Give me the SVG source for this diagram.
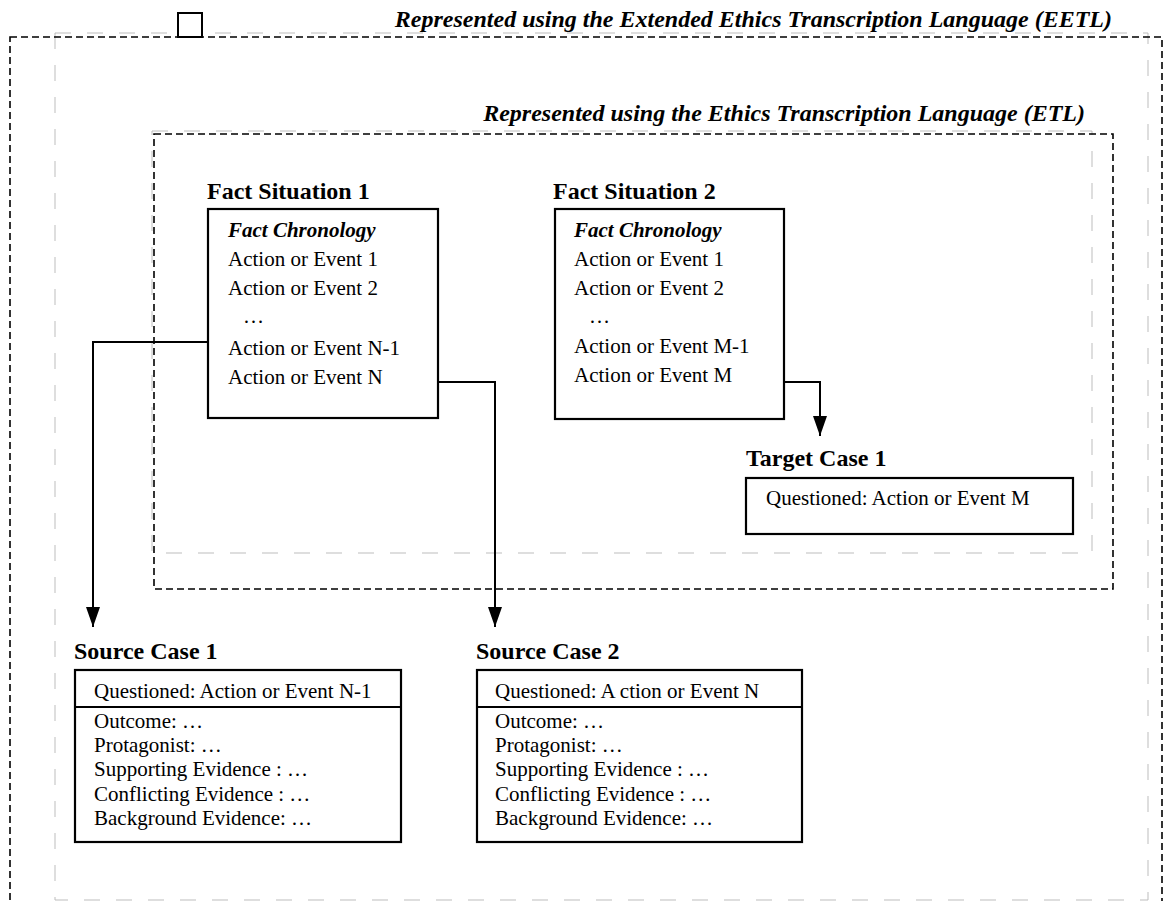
<svg xmlns="http://www.w3.org/2000/svg" width="1164" height="901" viewBox="0 0 1164 901">
<style>
text{font-family:"Liberation Serif","Times New Roman",serif;fill:#000}
.hdr{font-size:24px;font-weight:bold;font-style:italic}
.ttl{font-size:24px;font-weight:bold}
.fc{font-size:21px;font-weight:bold;font-style:italic}
.t{font-size:21px}
.box{fill:#fff;stroke:#000;stroke-width:2.2}
.bd{fill:none;stroke:#000;stroke-width:1.6;stroke-dasharray:7 4}
.gd{fill:none;stroke:#bdbdbd;stroke-width:1;stroke-dasharray:16 16}
.conn{fill:none;stroke:#000;stroke-width:2}
</style>
<defs>
<marker id="ah" viewBox="0 0 20 14" refX="20" refY="7" markerWidth="20" markerHeight="14" markerUnits="userSpaceOnUse" orient="auto">
<path d="M0,0 L20,7 L0,14 Z" fill="#000"/>
</marker>
</defs>
<rect width="1164" height="901" fill="#fff"/>
<g id="frame-eetl">
<rect class="gd" x="55" y="33" width="1093" height="867"/>
<rect class="bd" x="10" y="37" width="1152" height="880"/>
<rect x="178" y="13" width="24" height="24" fill="#fff" stroke="#000" stroke-width="2"/>
<text class="hdr" x="1112" y="27" text-anchor="end">Represented using  the Extended Ethics Transcription Language (EETL)</text>
</g>
<g id="frame-etl">
<rect class="gd" x="152" y="131" width="940" height="422"/>
<rect class="bd" x="154" y="134" width="959" height="455"/>
<text class="hdr" x="1085" y="121" text-anchor="end">Represented using the Ethics Transcription Language (ETL)</text>
</g>
<g id="connectors">
<polyline class="conn" points="208,342 93,342 93,627" marker-end="url(#ah)"/>
<polyline class="conn" points="438,382 495,382 495,627" marker-end="url(#ah)"/>
<polyline class="conn" points="784,382 820,382 820,436" marker-end="url(#ah)"/>
</g>
<g id="fact-situation-1">
<text class="ttl" x="207" y="199">Fact Situation 1</text>
<rect class="box" x="208" y="209" width="230" height="209"/>
<text class="fc" x="228" y="237">Fact Chronology</text>
<text class="t" x="228" y="266">Action or Event 1</text>
<text class="t" x="228" y="295">Action or Event 2</text>
<text class="t" x="243" y="323">…</text>
<text class="t" x="228" y="355">Action or Event N-1</text>
<text class="t" x="228" y="384">Action or Event N</text>
</g>
<g id="fact-situation-2">
<text class="ttl" x="553" y="199">Fact Situation 2</text>
<rect class="box" x="555" y="209" width="229" height="210"/>
<text class="fc" x="574" y="237">Fact Chronology</text>
<text class="t" x="574" y="266">Action or Event 1</text>
<text class="t" x="574" y="295">Action or Event 2</text>
<text class="t" x="589" y="323">…</text>
<text class="t" x="574" y="353">Action or Event M-1</text>
<text class="t" x="574" y="382">Action or Event M</text>
</g>
<g id="target-case-1">
<text class="ttl" x="746" y="466">Target Case 1</text>
<rect class="box" x="746" y="478" width="327" height="56"/>
<text class="t" x="766" y="505">Questioned: Action or Event M</text>
</g>
<g id="source-case-1">
<text class="ttl" x="74" y="659">Source Case 1</text>
<rect class="box" x="75" y="670" width="326" height="172"/>
<line x1="75" y1="707" x2="401" y2="707" stroke="#000" stroke-width="2.2"/>
<text class="t" x="94" y="698">Questioned: Action or Event N-1</text>
<text class="t" x="94" y="728">Outcome: …</text>
<text class="t" x="94" y="752">Protagonist: …</text>
<text class="t" x="94" y="776">Supporting Evidence : …</text>
<text class="t" x="94" y="801">Conflicting Evidence : …</text>
<text class="t" x="94" y="825">Background Evidence: …</text>
</g>
<g id="source-case-2">
<text class="ttl" x="476" y="659">Source Case 2</text>
<rect class="box" x="477" y="670" width="325" height="172"/>
<line x1="477" y1="707" x2="802" y2="707" stroke="#000" stroke-width="2.2"/>
<text class="t" x="495" y="698">Questioned: A ction or Event N</text>
<text class="t" x="495" y="728">Outcome: …</text>
<text class="t" x="495" y="752">Protagonist: …</text>
<text class="t" x="495" y="776">Supporting Evidence : …</text>
<text class="t" x="495" y="801">Conflicting  Evidence : …</text>
<text class="t" x="495" y="825">Background Evidence: …</text>
</g>
</svg>
